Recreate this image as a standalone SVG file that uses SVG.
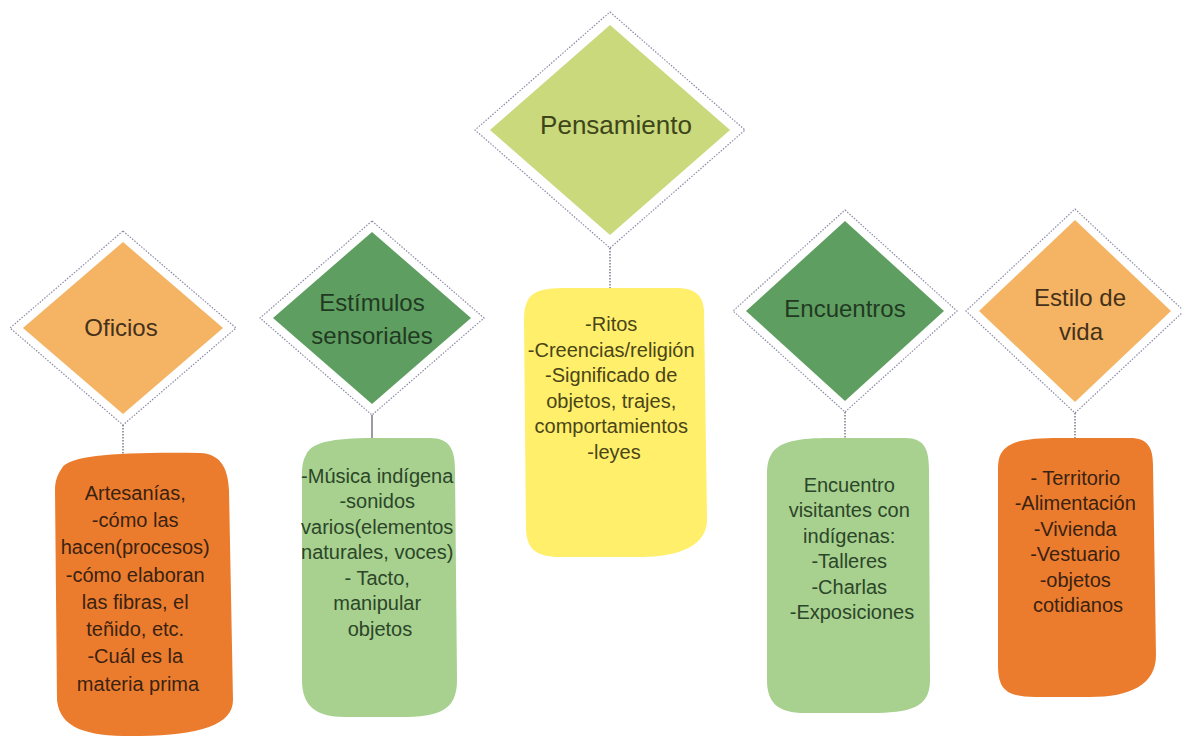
<svg xmlns="http://www.w3.org/2000/svg" width="1182" height="738" viewBox="0 0 1182 738">
<style>
.outer{fill:#ffffff;stroke:#8a8aa6;stroke-width:1.2;stroke-dasharray:1.5 1.5}
.lbl{font-family:"Liberation Sans",Arial,sans-serif;font-size:24px;text-anchor:middle}
.txt{font-family:"Liberation Sans",Arial,sans-serif;font-size:20px;text-anchor:middle}
.conn{stroke:#7a7a88;stroke-width:1.5;stroke-dasharray:1.5 1.5;fill:none}
.orangeD{fill:#F4B464}
.greenD{fill:#5F9E61}
.limeD{fill:#C9D97B}
.orangeC{fill:#EC7C2D}
.greenC{fill:#A8D08E}
.yellowC{fill:#FFEF6B}
.brown{fill:#45311a}
.dgreen{fill:#1f3a21}
.olive{fill:#3e4619}
.cardBrown{fill:#3a2212}
.cardGreen{fill:#2b4629}
.cardOlive{fill:#4a4518}
</style>
<rect width="1182" height="738" fill="#ffffff"/>
<g id="connectors">
<line class="conn" x1="123" y1="425" x2="123" y2="455"/>
<line class="conn" x1="372" y1="415" x2="372" y2="439" style="stroke-dasharray:none"/>
<line class="conn" x1="610" y1="248" x2="610" y2="289"/>
<line class="conn" x1="845" y1="412" x2="845" y2="439"/>
<line class="conn" x1="1075" y1="413" x2="1075" y2="439"/>
</g>
<g id="oficios">
<polygon class="outer" points="123,231 236,328 123,425 10,328"/>
<polygon class="orangeD" points="123,242 223,328 123,414 23,328"/>
<text class="lbl brown" x="121" y="336">Oficios</text>
</g>
<g id="estimulos">
<polygon class="outer" points="372,221 484,318 372,415 260,318"/>
<polygon class="greenD" points="372,232 471,318 372,404 273,318"/>
<text class="lbl dgreen" x="372" y="311">Estímulos</text>
<text class="lbl dgreen" x="372" y="344">sensoriales</text>
</g>
<g id="pensamiento">
<polygon class="outer" points="610,12 745,130 610,248 475,130"/>
<polygon class="limeD" points="610,25 730,130 610,235 490,130"/>
<text class="lbl olive" x="616" y="134" style="font-size:26px">Pensamiento</text>
</g>
<g id="encuentros">
<polygon class="outer" points="845,210 957,311 845,412 733,311"/>
<polygon class="greenD" points="845,221 944,311 845,401 746,311"/>
<text class="lbl dgreen" x="845" y="317">Encuentros</text>
</g>
<g id="estilo">
<polygon class="outer" points="1075,209 1184,311 1075,413 966,311"/>
<polygon class="orangeD" points="1075,220 1171,311 1075,402 979,311"/>
<text class="lbl brown" x="1080" y="306">Estilo de</text>
<text class="lbl brown" x="1081" y="340">vida</text>
</g>
<g id="card-oficios">
<path class="orangeC" d="M62,468 C70,455 120,452 200,453 C222,454 228,470 229,490 L233,700 C233,725 200,735 140,736 C90,737 60,730 57,700 L55,490 C55,480 58,474 62,468 Z"/>
<text class="txt cardBrown">
<tspan x="138" y="500">Artesanías,</tspan>
<tspan x="138" y="527">-cómo las</tspan>
<tspan x="138" y="554">hacen(procesos)</tspan>
<tspan x="138" y="582">-cómo elaboran</tspan>
<tspan x="138" y="609">las fibras, el</tspan>
<tspan x="138" y="636">teñido, etc.</tspan>
<tspan x="138" y="663">-Cuál es la</tspan>
<tspan x="138" y="691">materia prima</tspan>
</text>
</g>
<g id="card-estimulos">
<path class="greenC" d="M306,455 C312,440 340,438 380,438 L430,438 C450,438 455,450 455,470 L457,680 C457,710 440,717 400,717 L345,717 C315,717 302,705 302,680 L302,475 C302,466 303,460 306,455 Z"/>
<text class="txt cardGreen">
<tspan x="380" y="483">-Música indígena</tspan>
<tspan x="380" y="508">-sonidos</tspan>
<tspan x="380" y="534">varios(elementos</tspan>
<tspan x="380" y="559">naturales, voces)</tspan>
<tspan x="380" y="585">- Tacto,</tspan>
<tspan x="380" y="610">manipular</tspan>
<tspan x="380" y="636">objetos</tspan>
</text>
</g>
<g id="card-pensamiento">
<path class="yellowC" d="M527,302 C532,290 545,288 570,288 L675,288 C695,288 703,295 704,310 L707,520 C707,545 680,557 640,557 L560,557 C535,557 527,548 526,530 L524,320 C524,312 525,306 527,302 Z"/>
<text class="txt cardOlive">
<tspan x="614" y="331">-Ritos</tspan>
<tspan x="614" y="357">-Creencias/religión</tspan>
<tspan x="614" y="382">-Significado de</tspan>
<tspan x="614" y="408">objetos, trajes,</tspan>
<tspan x="614" y="433">comportamientos</tspan>
<tspan x="614" y="459">-leyes</tspan>
</text>
</g>
<g id="card-encuentros">
<path class="greenC" d="M771,455 C778,441 800,438 830,438 L905,438 C925,438 929,450 929,470 L930,680 C930,708 910,713 870,713 L805,713 C778,713 767,703 767,680 L767,475 C767,466 768,460 771,455 Z"/>
<text class="txt cardGreen">
<tspan x="852" y="492">Encuentro</tspan>
<tspan x="852" y="517">visitantes con</tspan>
<tspan x="852" y="543">indígenas:</tspan>
<tspan x="852" y="568">-Talleres</tspan>
<tspan x="852" y="594">-Charlas</tspan>
<tspan x="852" y="619">-Exposiciones</tspan>
</text>
</g>
<g id="card-estilo">
<path class="orangeC" d="M1002,452 C1010,440 1030,438 1060,438 L1130,438 C1148,438 1153,448 1153,465 L1156,655 C1156,685 1130,697 1090,697 L1035,697 C1005,697 998,688 998,665 L998,470 C998,462 999,456 1002,452 Z"/>
<text class="txt cardBrown">
<tspan x="1078" y="485">- Territorio</tspan>
<tspan x="1078" y="510">-Alimentación</tspan>
<tspan x="1078" y="536">-Vivienda</tspan>
<tspan x="1078" y="561">-Vestuario</tspan>
<tspan x="1078" y="587">-objetos</tspan>
<tspan x="1078" y="612">cotidianos</tspan>
</text>
</g>
</svg>
